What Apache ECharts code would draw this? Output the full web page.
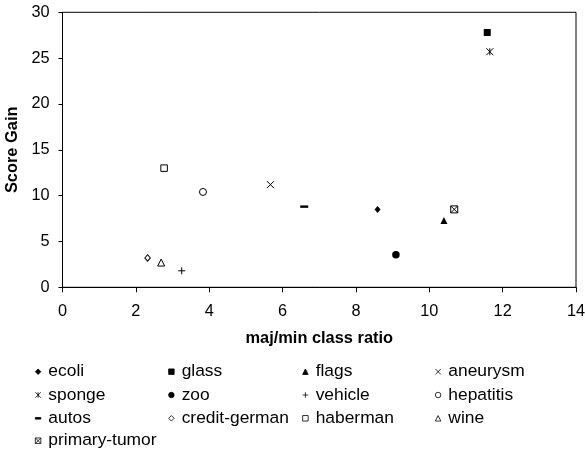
<!DOCTYPE html>
<html><head><meta charset="utf-8">
<script src="https://cdn.jsdelivr.net/npm/echarts@6/dist/echarts.min.js"></script>
<style>html,body{margin:0;padding:0;background:#fff}#c{width:585px;height:452px}</style>
</head><body><div id="c"></div>
<script>
const names = ["ecoli","glass","flags","aneurysm","sponge","zoo","vehicle","hepatitis","autos","credit-german","haberman","wine","primary-tumor"];
const ratios = [8.59, 11.58, 10.40, 5.67, 11.65, 9.09, 3.25, 3.83, 6.59, 2.32, 2.77, 2.69, 10.68];
const gains  = [8.5, 27.8, 7.3, 11.2, 25.7, 3.55, 1.8, 10.4, 8.8, 3.2, 13.0, 2.7, 8.5];
const xTicks = [0,2,4,6,8,10,12,14];
const yTicks = [0,5,10,15,20,25,30];

const styles = {
  "ecoli":        {symbol:'diamond', size:[6,7], fill:'#000', stroke:null},
  "glass":        {symbol:'rect', size:7, fill:'#000', stroke:null},
  "flags":        {symbol:'triangle', size:[7,7], fill:'#000', stroke:null},
  "aneurysm":     {symbol:'path://M0,0L10,10M10,0L0,10', size:7, fill:'transparent', stroke:'#000'},
  "sponge":       {symbol:'path://M0,0L10,10M10,0L0,10M5,0L5,10', size:7, fill:'transparent', stroke:'#000'},
  "zoo":          {symbol:'circle', size:7.5, fill:'#000', stroke:null},
  "vehicle":      {symbol:'path://M5,0L5,10M0,5L10,5', size:7, fill:'transparent', stroke:'#000'},
  "hepatitis":    {symbol:'circle', size:7, fill:'#fff', stroke:'#000'},
  "autos":        {symbol:'path://M0,0L10,0L10,3L0,3Z', size:8, fill:'#000', stroke:null},
  "credit-german":{symbol:'diamond', size:[5.5,6.5], fill:'#fff', stroke:'#000'},
  "haberman":     {symbol:'rect', size:6.5, fill:'#fff', stroke:'#000'},
  "wine":         {symbol:'triangle', size:7, fill:'#fff', stroke:'#000'},
  "primary-tumor":{symbol:'path://M0,0L10,0L10,10L0,10ZM0,0L10,10M10,0L0,10', size:7, fill:'#fff', stroke:'#000'}
};

const series = names.map((n,i)=>{
  const s = styles[n];
  return {
    name:n, type:'scatter', symbol:s.symbol, symbolSize:s.size, symbolKeepAspect:true,
    data:[[ratios[i], gains[i]]],
    itemStyle:{color:s.fill, borderColor:s.stroke||'#000', borderWidth:s.stroke?1:0, opacity:1},
    emphasis:{disabled:true}, animation:false
  };
});

const cols = [
  ["ecoli","sponge","autos"],
  ["glass","zoo","credit-german"],
  ["flags","vehicle","haberman"],
  ["aneurysm","hepatitis","wine"],
  ["primary-tumor"]
];
const markerX = [37.7, 171, 305, 437.7, 37.7];
const legendTop = [362.7, 362.7, 362.7, 362.7, 431.7];
const legends = cols.map((c,k)=>({
  data:c, orient:'vertical', left:markerX[k]-2.75, top:legendTop[k], padding:0,
  itemWidth:5.5, itemHeight:5.5, itemGap:5.3,
  itemStyle:{borderWidth:0.8},
  textStyle:{fontFamily:'Liberation Sans', fontSize:17.4, lineHeight:18, color:'#000', padding:[0,0,0,2.5]},
  selectedMode:false
}));

const chart = echarts.init(document.getElementById('c'), null, {renderer:'canvas'});
chart.setOption({
  animation:false,
  backgroundColor:'#fff',
  textStyle:{fontFamily:'Liberation Sans'},
  grid:{left:62.5, right:9, top:12.3, bottom:164.7, show:true, borderColor:'#000', borderWidth:1,
        containLabel:false, outerBoundsMode:'none'},
  xAxis:{type:'value', min:xTicks[0], max:xTicks[xTicks.length-1], interval:2,
    name:'maj/min class ratio', nameLocation:'middle', nameGap:43,
    nameTextStyle:{fontWeight:'bold', fontSize:16.4, color:'#000', fontFamily:'Liberation Sans'},
    axisLine:{lineStyle:{color:'#000', width:1}}, axisTick:{show:true, length:5, lineStyle:{color:'#000'}},
    axisLabel:{color:'#000', fontSize:16.3, margin:16, fontFamily:'Liberation Sans'},
    splitLine:{show:false}},
  yAxis:{type:'value', min:yTicks[0], max:yTicks[yTicks.length-1], interval:5,
    name:'Score Gain', nameLocation:'middle', nameGap:33,
    nameTextStyle:{fontWeight:'bold', fontSize:16.4, color:'#000', fontFamily:'Liberation Sans'},
    axisLine:{lineStyle:{color:'#000', width:1}}, axisTick:{show:true, length:4, lineStyle:{color:'#000'}},
    axisLabel:{color:'#000', fontSize:16.3, margin:13, fontFamily:'Liberation Sans'},
    splitLine:{show:false}},
  legend:legends,
  series:series
});
</script></body></html>
